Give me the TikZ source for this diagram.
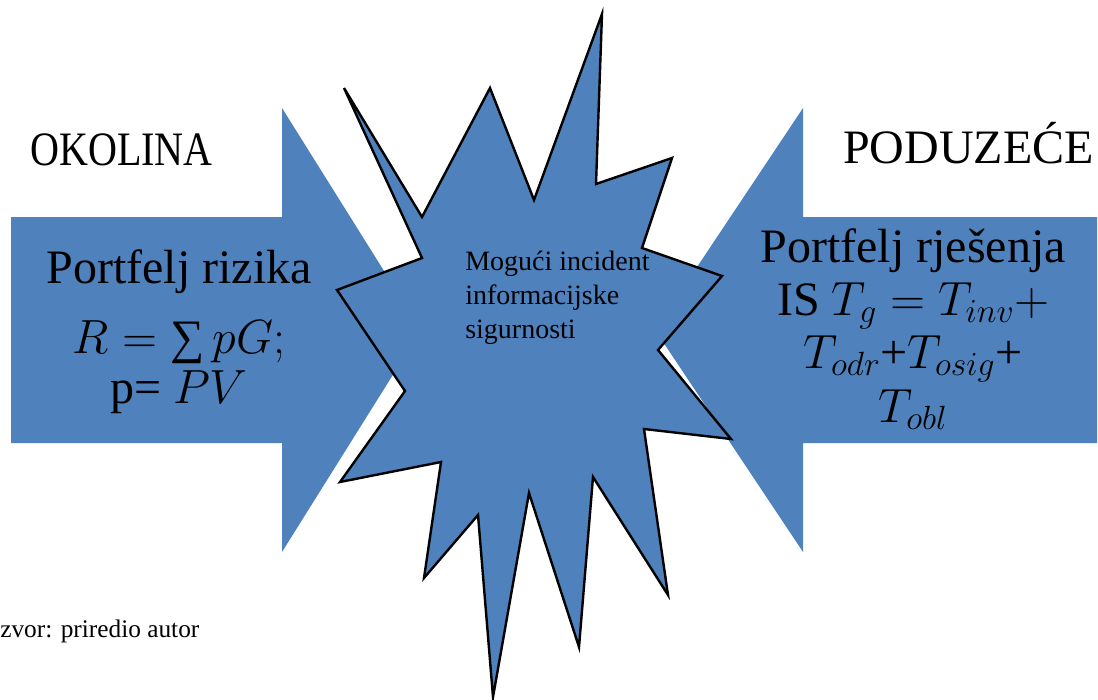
\RequirePackage{fix-cm}
\documentclass[tikz,border=0pt]{standalone}
\usepackage{fontspec}
\setmainfont{Liberation Serif}
\newfontfamily\serifface{Liberation Serif}
\usepackage{tikz}
\usetikzlibrary{positioning}
\definecolor{officeblue}{HTML}{4F81BD}
\tikzset{
    bigarrow/.style={fill=officeblue, draw=none},
    burst/.style={fill=officeblue, draw=black, line width=1.8pt,
        line join=miter},
    heading/.style={font=\serifface\fontsize{36}{40}\selectfont,
        inner sep=0pt},
    blocktext/.style={font=\serifface\fontsize{36}{40}\selectfont,
        align=center, inner sep=0pt},
    startext/.style={font=\serifface\fontsize{21}{25.5}\selectfont,
        align=left, inner sep=0pt},
}

\begin{document}
\begin{tikzpicture}[x=0.75pt, y=-0.75pt]

\useasboundingbox (0, 0) rectangle (1098, 699);

% ================================================================
%  ARROWS
% ================================================================

% Left arrow (okolina)
\draw[bigarrow] (11, 217) -- (282, 217) -- (282, 108) -- (421, 330)
    -- (282, 552) -- (282, 443) -- (11, 443) -- cycle;

% Right arrow (poduzece)
\draw[bigarrow] (1097, 217) -- (803, 217) -- (803, 108) -- (655, 330)
    -- (803, 552) -- (803, 443) -- (1097, 443) -- cycle;

% ================================================================
%  INCIDENT BURST
% ================================================================

\draw[burst] (344, 88) -- (422, 217) -- (490, 88) -- (534, 200)
    -- (602, 14) -- (596, 184) -- (672, 158) -- (642, 248)
    -- (722, 276) -- (658, 350) -- (731, 439) -- (644, 429)
    -- (668, 595) -- (593, 477) -- (579, 647) -- (529, 493)
    -- (493, 697) -- (478, 515) -- (424, 578) -- (441, 462)
    -- (340, 482) -- (405, 391) -- (337, 290) -- (422, 258)
    -- cycle;

% ================================================================
%  TEXTS (base anchor = last line)
% ================================================================

\node[heading, anchor=base west, xscale=0.835] (okolina) at (30, 165)
    {OKOLINA};
\node[heading, anchor=base west] (poduzece) at (843, 163)
    {PODUZEĆE};

\node[blocktext, font=\serifface\fontsize{36}{37.5}\selectfont,
      anchor=base]
    (rizik) at (179, 403)
    {Portfelj rizika\\[15pt]
     $R=\mbox{∑}\,pG;$\\
     p= $PV$};

\node[blocktext, anchor=base] (rjesenje) at (913, 422)
    {Portfelj rješenja\\
     IS $T_g=T_{inv}+$\\
     $T_{odr}$+$T_{osig}$+\\
     $T_{obl}$};

\node[startext, anchor=base west] (incident) at (465, 338)
    {Mogući incident\\
     informacijske\\
     sigurnosti};

\node[font=\serifface\fontsize{19}{22}\selectfont, anchor=base west,
      inner sep=0pt]
    (izvor) at (0, 637) {zvor: priredio autor};

\end{tikzpicture}
\end{document}
